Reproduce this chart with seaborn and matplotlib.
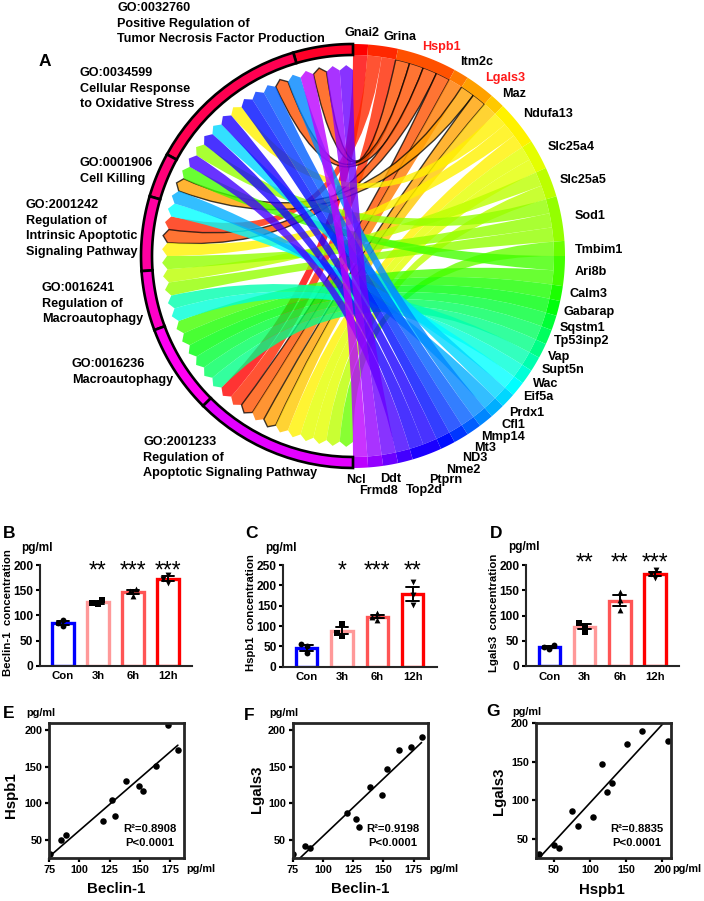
import numpy as np
import pandas as pd
import seaborn as sns
import matplotlib
matplotlib.use("Agg")
import matplotlib.pyplot as plt
from matplotlib.path import Path
from matplotlib.patches import PathPatch

genes = ['Gnai2', 'Grina', 'Hspb1', 'Itm2c', 'Lgals3', 'Maz', 'Ndufa13', 'Slc25a4', 'Slc25a5',
         'Sod1', 'Tmbim1', 'Ari8b', 'Calm3', 'Gabarap', 'Sqstm1', 'Tp53inp2', 'Vap', 'Supt5n',
         'Wac', 'Eif5a', 'Prdx1', 'Cfl1', 'Mmp14', 'Mt3', 'ND3', 'Nme2', 'Ptprn', 'Top2d',
         'Ddt', 'Frmd8', 'Ncl']
red_genes = ['Hspb1', 'Lgals3']

# GO terms, first one sits next to the top of the circle, going anticlockwise
go_ids = ['GO:0032760', 'GO:0034599', 'GO:0001906', 'GO:2001242', 'GO:0016241', 'GO:0016236', 'GO:2001233']
go_names = ['Positive Regulation of\nTumor Necrosis Factor Production',
            'Cellular Response\nto Oxidative Stress',
            'Cell Killing',
            'Regulation of\nIntrinsic Apoptotic\nSignaling Pathway',
            'Regulation of\nMacroautophagy',
            'Macroautophagy',
            'Regulation of\nApoptotic Signaling Pathway']
go_genes = [
    ['Ddt', 'Frmd8', 'Hspb1', 'Ncl'],
    ['Mmp14', 'Hspb1', 'Mt3', 'ND3', 'Nme2', 'Ndufa13', 'Ptprn', 'Prdx1', 'Ptprn', 'Sod1', 'Top2d'],
    ['Ari8b', 'Lgals3', 'Cfl1'],
    ['Eif5a', 'Grina', 'Hspb1', 'Ndufa13', 'Sod1'],
    ['Slc25a5', 'Sod1', 'Supt5n', 'Wac'],
    ['Ari8b', 'Calm3', 'Gabarap', 'Sqstm1', 'Tp53inp2', 'Vap'],
    ['Gnai2', 'Grina', 'Hspb1', 'Itm2c', 'Lgals3', 'Maz', 'Ndufa13', 'Slc25a4', 'Slc25a4', 'Slc25a5', 'Tmbim1'],
]

times = ['Con', '3h', '6h', '12h']
beclin_samples = [[91, 85, 78], [130, 125, 122], [152, 148, 138], [181, 172, 165]]
hspb1_samples = [[57, 50, 33], [105, 84, 76], [131, 123, 116], [208, 176, 151]]
lgals3_samples = [[41, 37, 33], [86, 80, 68], [147, 131, 110], [190, 183, 174]]
beclin_stars = ['', '**', '***', '***']
hspb1_stars = ['', '*', '***', '**']
lgals3_stars = ['', '**', '**', '***']

beclin = [75.5, 85, 89, 119.5, 129.5, 127, 138.5, 149, 153, 163, 173, 181.5]
hspb1 = [30, 50, 57, 75, 83, 104, 130, 123.5, 117, 151, 207.5, 172.5]
lgals3 = [30, 41.8, 38, 86, 67, 78, 122, 110.5, 147, 173, 177, 190]

sns.set_style("ticks")
plt.rcParams['font.family'] = ['Liberation Sans', 'DejaVu Sans']
plt.rcParams['font.weight'] = 'bold'
plt.rcParams['axes.linewidth'] = 1.5
plt.rcParams['xtick.color'] = 'black'
plt.rcParams['ytick.color'] = 'black'

W, H = 704, 901
fig = plt.figure(figsize=(W / 100, H / 100), dpi=100)


def axes_px(left, top, right, bottom):
    ax = fig.add_axes([left / W, 1 - bottom / H, (right - left) / W, (bottom - top) / H])
    ax.patch.set_visible(False)
    return ax


# everything outside the small panels lives on this one, in pixels of the picture
bg = axes_px(0, 0, W, H)
bg.set_xlim(0, W)
bg.set_ylim(H, 0)
bg.axis('off')


def label(x, y, s, size=9.1, color='k', **kw):
    bg.text(x, y, s, fontsize=size, color=color, ha=kw.pop('ha', 'center'), va=kw.pop('va', 'center'), **kw)


# ---- chord diagram
cx, cy = 353, 256
r_out, r_ring, r_tip, r_shoulder = 212, 201, 191, 186
palette = sns.hls_palette(38, h=0, l=.5, s=1)
n_links = sum(len(g) for g in go_genes)
unit = np.pi / n_links


def pt(theta, r, side=1):
    return cx + side * r * np.sin(theta), cy - r * np.cos(theta)


def arc(t0, t1, r, side=1):
    return [pt(t, r, side) for t in np.linspace(t0, t1, 16)]


def ring(ax, t0, t1, side, **kw):
    pts = arc(t0, t1, r_out, side) + arc(t1, t0, r_ring, side)
    codes = [Path.MOVETO] + [Path.LINETO] * (len(pts) - 1) + [Path.CLOSEPOLY]
    ax.add_patch(PathPatch(Path(pts + [pts[0]], codes), **kw))


units = [sum(g.count(name) for g in go_genes) for name in genes]
starts = np.cumsum([0] + units[:-1])
used = dict.fromkeys(genes, 0)

links = []
pos = 0
for g in go_genes:
    for name in g:
        slot = starts[genes.index(name)] + used[name]
        used[name] += 1
        links.append((name, slot, pos))
        pos += 1

links.sort(key=lambda l: genes.index(l[0]))
for name, slot, pos in links:
    a0, a1 = slot * unit, (slot + 1) * unit
    b0, b1 = pos * unit, (pos + 1) * unit
    back = arc(a1, a0, r_ring)
    verts = [pt(a0, r_ring), (cx, cy), pt(b0, r_shoulder, -1), pt((b0 + b1) / 2, r_tip, -1),
             pt(b1, r_shoulder, -1), (cx, cy), pt(a1, r_ring)] + back[1:] + [back[-1]]
    codes = [Path.MOVETO, Path.CURVE3, Path.CURVE3, Path.LINETO, Path.LINETO, Path.CURVE3, Path.CURVE3] \
        + [Path.LINETO] * (len(back) - 1) + [Path.CLOSEPOLY]
    face = (*palette[genes.index(name)], .8)
    if name in red_genes:
        bg.add_patch(PathPatch(Path(verts, codes), facecolor=face, edgecolor=(0, 0, 0, .75), lw=1.0))
    else:
        bg.add_patch(PathPatch(Path(verts, codes), facecolor=face, edgecolor='none', lw=0))

for i, name in enumerate(genes):
    ring(bg, starts[i] * unit, (starts[i] + units[i]) * unit, 1, facecolor=palette[i], edgecolor='none')

pos = 0
for i, g in enumerate(go_genes):
    ring(bg, pos * unit, (pos + len(g)) * unit, -1, facecolor=palette[37 - i], edgecolor='k', lw=1.9)
    pos += len(g)

gene_label_xy = [(362, 33), (400, 37), (441, 47), (477, 62), (505, 78), (514, 94), (548, 114), (571, 147),
                 (583, 180), (590, 216), (599, 250), (591, 272), (588, 294), (589, 312), (582, 328),
                 (582, 341), (559, 357), (563, 370), (546, 384), (538, 397), (527, 413), (513, 425),
                 (503, 437), (485, 448), (475, 458), (463, 470), (446, 480), (424, 490), (391, 479),
                 (379, 491), (356, 480)]
for name, (x, y) in zip(genes, gene_label_xy):
    label(x, y, name, color='#ff1a1a' if name in red_genes else 'k')

go_label_xy = [(117, 8), (80, 73), (80, 163), (26, 205), (42, 288), (72, 364), (143, 442)]
for gid, gname, (x, y) in zip(go_ids, go_names, go_label_xy):
    for k, line in enumerate([gid] + gname.split('\n')):
        label(x, y + k * 15.6, line, ha='left')

label(45, 62, 'A', size=12.5)


# ---- concentration bars
bar_colors = ['#0000ff', '#ff9999', '#ff5555', '#ff0000']
bar_markers = ['o', 's', '^', 'v']


def bar_panel(box, samples, top, step, stars, star_y):
    ax = axes_px(*box)
    df = pd.DataFrame({'time': np.repeat(times, 3), 'value': np.ravel(samples)})
    sns.barplot(data=df, x='time', y='value', hue='time', order=times, hue_order=times, palette=bar_colors,
                fill=False, width=.61, linewidth=2.4, errorbar='se', capsize=.36,
                err_kws={'color': 'k', 'linewidth': 1.4}, legend=False, ax=ax)
    for t, m in zip(times, bar_markers):
        sns.swarmplot(data=df[df.time == t], x='time', y='value', order=times, marker=m, color='k', size=4.2, ax=ax)
    ax.set_xlim(-.67, 3.68)
    ax.set_ylim(0, top)
    ax.set_yticks(np.arange(0, top + 1, step))
    ax.set_xlabel('')
    ax.set_ylabel('')
    ax.tick_params(axis='x', length=0, pad=4, labelsize=8.2)
    ax.tick_params(axis='y', length=3, width=1.5, pad=1.5, labelsize=8.6)
    sns.despine(ax=ax)
    for i, s in enumerate(stars):
        x_px = box[0] + (i + .67) / 4.35 * (box[2] - box[0])
        label(x_px, star_y + 3, s, size=16.5, fontweight='normal')
    return ax


bar_panel((39.5, 565, 191.7, 665.7), beclin_samples, 200, 50, beclin_stars, 568)
bar_panel((283, 565, 436.7, 666.7), hspb1_samples, 250, 50, hspb1_stars, 568)
bar_panel((525.7, 565, 679, 666), lgals3_samples, 200, 50, lgals3_stars, 560)

label(9, 533, 'B', size=12.5)
label(252, 533, 'C', size=12.5)
label(496, 533, 'D', size=12.5)
label(37, 548, 'pg/ml', size=8.5)
label(281, 548, 'pg/ml', size=8.5)
label(524, 547, 'pg/ml', size=8.5)
label(8, 613, 'Beclin-1  concentration', size=8.2, rotation=90)
label(251, 613, 'Hspb1  concentration', size=8.2, rotation=90)
label(494, 613, 'Lgals3  concentration', size=8.2, rotation=90)


# ---- correlations
def corr_panel(box, x, y, xlim, ylim, xticks, yticks):
    ax = axes_px(*box)
    sns.regplot(x=x, y=y, ci=None, truncate=True, color='k', ax=ax,
                scatter_kws={'s': 22, 'alpha': 1, 'linewidths': 0}, line_kws={'lw': 1.2})
    ax.set_xlim(*xlim)
    ax.set_ylim(*ylim)
    ax.set_xticks(xticks)
    ax.set_yticks(yticks)
    ax.tick_params(length=3, width=1.6, pad=2, labelsize=7.8)
    for s in ax.spines.values():
        s.set_linewidth(2)
    return ax


corr_panel((49.3, 722.7, 184, 858), beclin, hspb1, (75, 186.6), (25, 210), [75, 100, 125, 150, 175], [50, 100, 150, 200])
corr_panel((292.7, 722.7, 427.7, 858), beclin, lgals3, (75, 186.6), (25, 210), [75, 100, 125, 150, 175], [50, 100, 150, 200])
corr_panel((535.7, 723, 670.7, 858), hspb1, lgals3, (25, 211.5), (25, 200), [50, 100, 150, 200], [50, 100, 150, 200])

for x, s in [(150, 'R²=0.8908'), (393, 'R²=0.9198'), (637, 'R²=0.8835')]:
    label(x, 829, s, size=8.1)
for x in (150, 393, 637):
    label(x, 843, 'P<0.0001', size=8.1)

label(9, 714, 'E', size=12.5)
label(249, 715, 'F', size=12.5)
label(493, 712, 'G', size=12.5)
for x, y in [(41, 713), (284, 713), (527, 712), (201, 869), (444, 869), (687, 869)]:
    label(x, y, 'pg/ml', size=7.8)
label(116, 889, 'Beclin-1', size=10.8)
label(360, 889, 'Beclin-1', size=10.8)
label(602, 890, 'Hspb1', size=10.8)
label(11, 795, 'Hspb1', size=10.8, rotation=90)
label(257, 789, 'Lgals3', size=10.8, rotation=90)
label(499, 791, 'Lgals3', size=10.8, rotation=90)

fig.savefig('out.png', dpi=100)
